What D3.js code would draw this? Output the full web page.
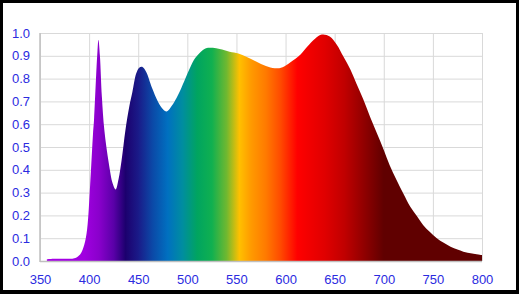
<!DOCTYPE html>
<html>
<head>
<meta charset="utf-8">
<script src="https://cdn.jsdelivr.net/npm/d3@7"></script>
<style>
  body { margin: 0; background: #000; }
  svg { display: block; }
  .tick text { font-family: "Liberation Sans", Arial, sans-serif; font-size: 13px; fill: #2b2bdf; }
</style>
</head>
<body>
<svg id="chart" width="519" height="294"></svg>
<script>
// Spectrum samples (wavelength in nm, relative intensity)
const wavelengths = [357, 365, 375, 385, 391, 395, 398, 401, 404, 405, 407, 408.5, 409.5, 411, 413, 415.5,
    420, 424, 427, 430, 433, 437, 441, 444, 448, 451, 454, 458, 464, 470, 475, 479, 484, 489, 493, 498,
    503, 508, 513, 519, 526, 533, 543, 552, 560, 570, 580, 589, 597, 605, 615, 622, 630, 637, 645, 652,
    659, 666, 672, 679, 686, 693, 700, 706, 713, 720, 727, 734, 740, 747, 754, 761, 768, 775, 781, 790, 800];
const intensity = [0.008, 0.01, 0.01, 0.012, 0.03, 0.07, 0.14, 0.33, 0.56, 0.62, 0.8, 0.92, 0.97, 0.9, 0.72, 0.575,
    0.43, 0.34, 0.314, 0.36, 0.44, 0.575, 0.68, 0.74, 0.823, 0.848, 0.852, 0.83, 0.76, 0.7, 0.667, 0.656, 0.68, 0.715, 0.75, 0.8,
    0.85, 0.89, 0.915, 0.933, 0.935, 0.93, 0.918, 0.91, 0.896, 0.875, 0.855, 0.845, 0.85, 0.872, 0.905, 0.94, 0.975, 0.993, 0.985, 0.95,
    0.896, 0.84, 0.78, 0.71, 0.633, 0.56, 0.487, 0.42, 0.355, 0.295, 0.238, 0.195, 0.158, 0.127, 0.1, 0.08, 0.063, 0.05, 0.041, 0.033, 0.026];

// Colour of the light at each wavelength (gradient stops)
const stopWavelengths = [357, 395, 410, 425, 437, 450, 465, 480, 495, 510, 525, 540, 553, 565, 580, 595, 612, 640, 660, 680, 700, 800];
const stopColors = ['#a600e6', '#a000e0', '#8a00cc', '#5a00a8', '#1c006e', '#1a1a88', '#0b4aa8', '#0070c0', '#008da0', '#00a460',
    '#10b050', '#70b830', '#ffc000', '#ff9a00', '#ff7a00', '#ff4a00', '#ff0000', '#e00000', '#c00000', '#900000', '#600000', '#600000'];

const xTicks = [350, 400, 450, 500, 550, 600, 650, 700, 750, 800];
const yTicks = [0, 0.1, 0.2, 0.3, 0.4, 0.5, 0.6, 0.7, 0.8, 0.9, 1.0];

const svg = d3.select('#chart');

// white panel inside the dark frame
svg.append('rect')
    .attr('x', 3).attr('y', 3)
    .attr('width', 513).attr('height', 287)
    .attr('fill', '#fff');

const margin = { left: 40, top: 33, right: 37, bottom: 33 };
const width = 519 - margin.left - margin.right;
const height = 294 - margin.top - margin.bottom;

const x = d3.scaleLinear().domain([350, 800]).range([0, width]);
const y = d3.scaleLinear().domain([0, 1]).range([height, 0]);

const g = svg.append('g')
    .attr('transform', `translate(${margin.left}, ${margin.top})`);

// Gridlines + tick labels
const yAxis = g.append('g')
    .call(d3.axisLeft(y).tickValues(yTicks).tickFormat(d3.format('.1f'))
        .tickSize(-width).tickPadding(10));
const xAxis = g.append('g')
    .attr('transform', `translate(0, ${height})`)
    .call(d3.axisBottom(x).tickValues(xTicks).tickFormat(d3.format('d'))
        .tickSize(-height).tickPadding(14));

[yAxis, xAxis].forEach(a => {
    a.select('.domain').remove();
    a.selectAll('.tick line').attr('stroke', '#d9d9d9').attr('stroke-width', 1);
});

// Spectrum gradient
const defs = svg.append('defs');
const grad = defs.append('linearGradient')
    .attr('id', 'spectrum')
    .attr('gradientUnits', 'userSpaceOnUse')
    .attr('x1', x(350)).attr('x2', x(800))
    .attr('y1', 0).attr('y2', 0);
stopWavelengths.forEach((w, i) => {
    grad.append('stop')
        .attr('offset', `${(w - 350) / 450 * 100}%`)
        .attr('stop-color', stopColors[i]);
});

const data = wavelengths.map((w, i) => ({ w, v: intensity[i] }));

const area = d3.area()
    .x(d => x(d.w))
    .y0(y(0))
    .y1(d => y(d.v))
    .curve(d3.curveCatmullRom.alpha(0.5));

g.append('path')
    .datum(data)
    .attr('d', area)
    .attr('fill', 'url(#spectrum)');

// left and bottom axis lines
g.append('line')
    .attr('x1', 0).attr('x2', 0)
    .attr('y1', 0).attr('y2', height + 1)
    .attr('stroke', '#bfbfbf').attr('stroke-width', 1.5);
g.append('line')
    .attr('x1', 0).attr('x2', width)
    .attr('y1', height + 0.5).attr('y2', height + 0.5)
    .attr('stroke', '#bfbfbf').attr('stroke-width', 1.5);
</script>
</body>
</html>
